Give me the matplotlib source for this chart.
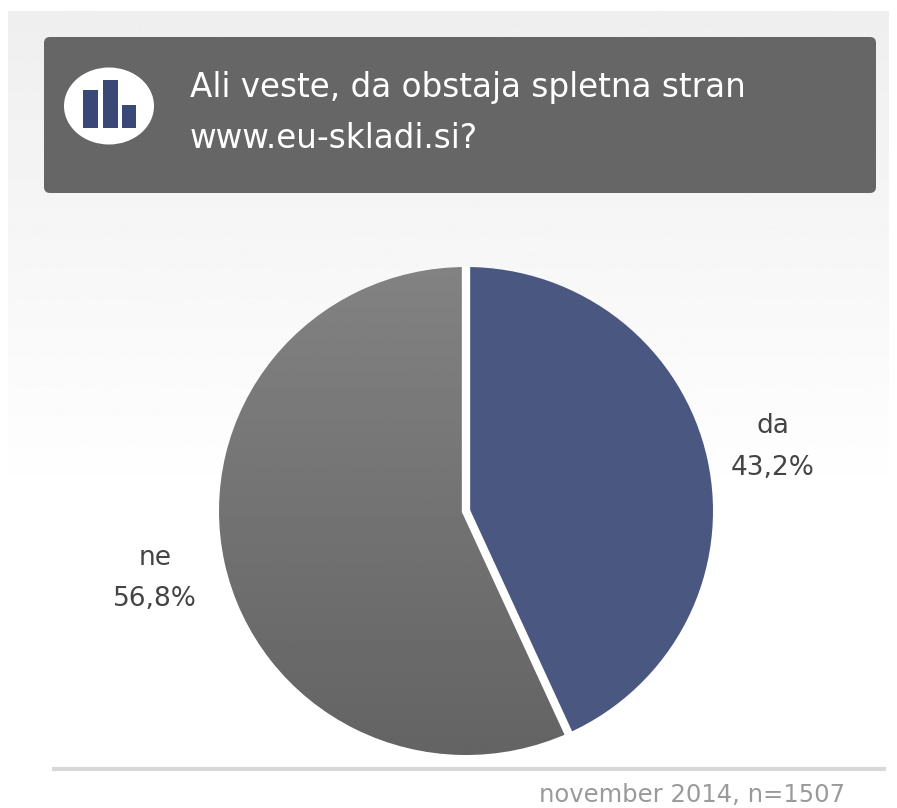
import numpy as np
import matplotlib
matplotlib.use("Agg")
from matplotlib import pyplot as plt
from matplotlib.patches import FancyBboxPatch, Ellipse, Rectangle

labels = ["da", "ne"]
values = [43.2, 56.8]
value_labels = ["43,2%", "56,8%"]
title_lines = ["Ali veste, da obstaja spletna stran", "www.eu-skladi.si?"]
footer = "november 2014, n=1507"
icon_heights = [38, 48, 23]

W, H = 897, 808
plt.rcParams['font.family'] = ['DejaVu Sans']
fig = plt.figure(figsize=(W/100, H/100), dpi=100, facecolor="white")

# background, pixel coords
bg = fig.add_axes([0, 0, 1, 1])
grad = np.ones((H, 1))
grad[:500, 0] = np.linspace(0.935, 1.0, 500)
bg.imshow(grad, extent=[8, W-8, H, 11], cmap="gray", vmin=0, vmax=1, aspect="auto")
bg.set_xlim(0, W)
bg.set_ylim(H, 0)
bg.axis("off")

bg.add_patch(FancyBboxPatch((44, 37), 832, 156, boxstyle="round,pad=0,rounding_size=6",
                            fc="#666666", ec="none"))
bg.add_patch(Ellipse((109, 106), 90, 77, fc="white", ec="none"))
for x, w, h in zip([83, 103, 122], [15, 15, 14], icon_heights):
    bg.add_patch(Rectangle((x, 128-h), w, h, fc="#3a4878", ec="none"))

bg.text(190, 87, title_lines[0], color="white", fontsize=23.5, va="center")
bg.text(190, 138, title_lines[1], color="white", fontsize=23.5, va="center")

bg.plot([52, 886], [769, 769], color="#d8d8d8", lw=3, solid_capstyle="butt")
bg.text(845, 795, footer, color="#9a9a9a", fontsize=17.5, ha="right", va="center")

# pie is slightly wider than tall in the reference
cx, cy, rx, ry = 466, 511, 247, 244
ax = fig.add_axes([(cx-rx)/W, 1-(cy+ry)/H, 2*rx/W, 2*ry/H])
wedges, _ = ax.pie(values, startangle=90, counterclock=False, radius=1,
                   colors=["#4a5780", "#6e6e6e"],
                   wedgeprops=dict(edgecolor="none"))
# vertical gradient on the grey slice
g = np.linspace(0.51, 0.39, 256).reshape(-1, 1)
im = ax.imshow(g, extent=[-1, 1, -1, 1], cmap="gray", vmin=0, vmax=1, aspect="auto", zorder=0.5)
im.set_clip_path(wedges[1])
wedges[1].set_facecolor("none")
# white gaps between the slices only
for t in [wedges[0].theta1, wedges[0].theta2]:
    a = np.deg2rad(t)
    ax.plot([0, 1.02*np.cos(a)], [0, 1.02*np.sin(a)], color="white", lw=6,
            solid_capstyle="round", zorder=3)
ax.set_xlim(-1, 1)
ax.set_ylim(-1, 1)
ax.set_aspect("auto")
ax.axis("off")

bg.set_zorder(0)
ax.set_zorder(1)
txt = fig.add_axes([0, 0, 1, 1], zorder=2)
txt.set_xlim(0, W)
txt.set_ylim(H, 0)
txt.axis("off")
txt.text(773, 426, labels[0], color="#444444", fontsize=19, ha="center", va="center")
txt.text(773, 468, value_labels[0], color="#444444", fontsize=19, ha="center", va="center")
txt.text(155, 558, labels[1], color="#444444", fontsize=19, ha="center", va="center")
txt.text(155, 599, value_labels[1], color="#444444", fontsize=19, ha="center", va="center")

fig.savefig("out.png", dpi=100)
